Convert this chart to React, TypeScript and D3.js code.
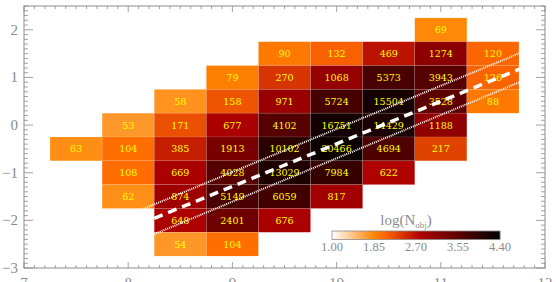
import React from "react";
import * as d3 from "d3";

// bin centres (x: 0.5 wide, y: 0.5 tall)
const xBins = [7.5, 8.0, 8.5, 9.0, 9.5, 10.0, 10.5, 11.0, 11.5];
const yBins = [2.0, 1.5, 1.0, 0.5, 0.0, -0.5, -1.0, -1.5, -2.0, -2.5];

// object counts per row (top row first), null = empty bin
const counts: (number | null)[][] = [
  [null, null, null, null, null, null, null, 69, null],
  [null, null, null, null, 90, 132, 469, 1274, 120],
  [null, null, null, 79, 270, 1068, 5373, 3943, 126],
  [null, null, 58, 158, 971, 5724, 15504, 3528, 88],
  [null, 53, 171, 677, 4102, 16751, 14429, 1188, null],
  [63, 104, 385, 1913, 10102, 20466, 4694, 217, null],
  [null, 108, 669, 4028, 13029, 7984, 622, null, null],
  [null, 62, 874, 5149, 6059, 817, null, null, null],
  [null, null, 648, 2401, 676, null, null, null, null],
  [null, null, 54, 104, null, null, null, null, null],
];

const xTicks = [7, 8, 9, 10, 11, 12];
const yTicks = [-3, -2, -1, 0, 1, 2];
const cbarTicks = [1.0, 1.85, 2.7, 3.55, 4.4];

// relation lines: [x, y] end points
const fitLine: [number, number][] = [[8.25, -1.956], [11.76, 1.178]];
const upperLine: [number, number][] = [[8.145, -1.76], [11.753, 1.507]];
const lowerLine: [number, number][] = [[8.25, -2.29], [11.753, 0.898]];

const W = 556;
const H = 282;
const plot = { left: 24, right: 545, top: 6, bottom: 268 };

// IDL "red temperature" table, reversed (white -> black)
function redTemp(v: number) {
  const t = Math.max(0, Math.min(1, (v - 1.0) / 3.4));
  const i = 255 * (1 - t);
  const r = Math.min(255, (i * 255) / 176);
  const g = Math.max(0, ((i - 120) * 255) / 135);
  const b = Math.max(0, ((i - 190) * 255) / 65);
  return d3.rgb(r, g, b).formatHex();
}

export default function App() {
  const x = d3.scaleLinear().domain([7, 12]).range([plot.left, plot.right]);
  const y = d3.scaleLinear().domain([-3, 2.5]).range([plot.bottom, plot.top]);
  const cw = x(0.5) - x(0);
  const ch = y(0) - y(0.5);

  const cells: { cx: number; cy: number; n: number }[] = [];
  counts.forEach((row, ri) =>
    row.forEach((n, ci) => {
      if (n != null) cells.push({ cx: xBins[ci], cy: yBins[ri], n });
    })
  );

  const xMinor = d3.range(70, 121).map((d) => d / 10);
  const yMinor = d3.range(-30, 26).map((d) => d / 10);

  const cb = d3.scaleLinear().domain([1.0, 4.4]).range([332, 500]);
  const cbTop = 231;
  const cbH = 8.5;
  const cbSteps = d3.range(0, 168);

  const line = d3
    .line<[number, number]>()
    .x((d) => x(d[0]))
    .y((d) => y(d[1]));

  const axisColor = "#8c8c8c";
  const font = "'Liberation Serif', 'DejaVu Serif', serif";

  return (
    <svg
      width={W}
      height={H}
      style={{ position: "fixed", left: 0, top: 0, background: "#fff" }}
    >
      {/* bins */}
      <g>
        {cells.map((c, i) => (
          <rect
            key={i}
            x={x(c.cx - 0.25)}
            y={y(c.cy + 0.25)}
            width={cw}
            height={ch}
            fill={redTemp(Math.log10(c.n))}
            stroke="rgba(255,255,255,0.18)"
            strokeWidth={0.6}
          />
        ))}
        {cells.map((c, i) => (
          <text
            key={"t" + i}
            x={x(c.cx)}
            y={y(c.cy) + 3.5}
            textAnchor="middle"
            fill="#ffff00"
            fontFamily="'DejaVu Serif', serif"
            fontSize={9.5}
          >
            {c.n}
          </text>
        ))}
      </g>

      {/* lines */}
      <path d={line(upperLine) || ""} stroke="#fff" strokeWidth={2} strokeDasharray="1 1" fill="none" />
      <path d={line(lowerLine) || ""} stroke="#fff" strokeWidth={2} strokeDasharray="1 1" fill="none" />
      <path d={line(fitLine) || ""} stroke="#fff" strokeWidth={3.5} strokeDasharray="9 6" fill="none" />

      {/* frame */}
      <rect
        x={plot.left}
        y={plot.top}
        width={plot.right - plot.left}
        height={plot.bottom - plot.top}
        fill="none"
        stroke={axisColor}
        strokeWidth={1}
      />
      {xMinor.map((v, i) => {
        const major = Math.abs(v - Math.round(v)) < 1e-6;
        const len = major ? 6 : 3;
        return (
          <g key={"xm" + i} stroke={axisColor} strokeWidth={0.8}>
            <line x1={x(v)} x2={x(v)} y1={plot.bottom} y2={plot.bottom - len} />
            <line x1={x(v)} x2={x(v)} y1={plot.top} y2={plot.top + len} />
          </g>
        );
      })}
      {yMinor.map((v, i) => {
        const major = Math.abs(v - Math.round(v)) < 1e-6;
        const len = major ? 9 : 4;
        return (
          <g key={"ym" + i} stroke={axisColor} strokeWidth={0.8}>
            <line x1={plot.left} x2={plot.left + len} y1={y(v)} y2={y(v)} />
            <line x1={plot.right} x2={plot.right - len} y1={y(v)} y2={y(v)} />
          </g>
        );
      })}
      {xTicks.map((v) => (
        <text
          key={"xt" + v}
          x={x(v)}
          y={288}
          textAnchor="middle"
          fill={axisColor}
          fontFamily={font}
          fontSize={15}
        >
          {v}
        </text>
      ))}
      {yTicks.map((v) => (
        <text
          key={"yt" + v}
          x={18}
          y={y(v) + 5}
          textAnchor="end"
          fill={axisColor}
          fontFamily={font}
          fontSize={15}
        >
          {v < 0 ? "\u2212" + Math.abs(v) : v}
        </text>
      ))}

      {/* colour bar */}
      {cbSteps.map((s) => (
        <rect
          key={"cb" + s}
          x={332 + s}
          y={cbTop}
          width={1.2}
          height={cbH}
          fill={redTemp(cb.invert(332 + s + 0.5))}
        />
      ))}
      <rect x={332} y={cbTop} width={168} height={cbH} fill="none" stroke={axisColor} strokeWidth={0.8} />
      {cbarTicks.map((v) => (
        <text
          key={"cbt" + v}
          x={cb(v)}
          y={251}
          textAnchor="middle"
          fill={axisColor}
          fontFamily={font}
          fontSize={12.5}
        >
          {v.toFixed(2)}
        </text>
      ))}
      <text x={406} y={225} textAnchor="middle" fill={axisColor} fontFamily={font} fontSize={15}>
        log(N<tspan fontSize={9} dy={3}>obj</tspan>
        <tspan dy={-3}>)</tspan>
      </text>
    </svg>
  );
}
